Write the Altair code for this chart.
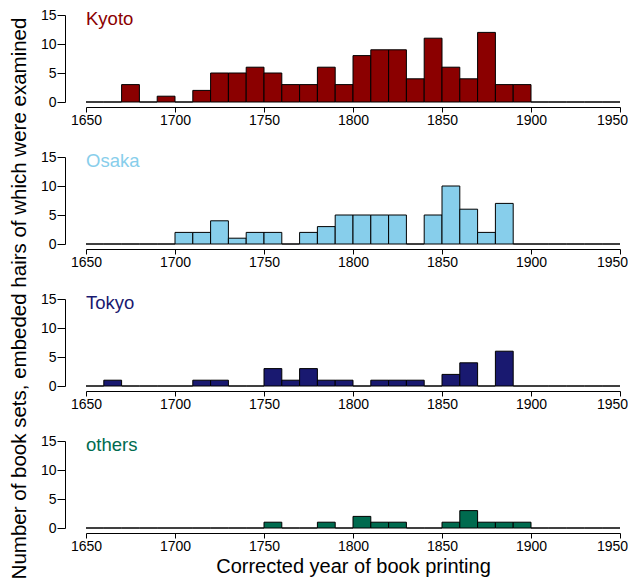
import altair as alt
import pandas as pd

FONT = "Liberation Sans"

# bin starts (10-year bins)
years = [1650, 1660, 1670, 1680, 1690, 1700, 1710, 1720, 1730, 1740,
         1750, 1760, 1770, 1780, 1790, 1800, 1810, 1820, 1830, 1840,
         1850, 1860, 1870, 1880, 1890, 1900, 1910, 1920, 1930, 1940]
bin_width = 10

kyoto = [0, 0, 3, 0, 1, 0, 2, 5, 5, 6, 5, 3, 3, 6, 3, 8, 9, 9, 4, 11, 6, 4, 12, 3, 3, 0, 0, 0, 0, 0]
osaka = [0, 0, 0, 0, 0, 2, 2, 4, 1, 2, 2, 0, 2, 3, 5, 5, 5, 5, 0, 5, 10, 6, 2, 7, 0, 0, 0, 0, 0, 0]
tokyo = [0, 1, 0, 0, 0, 0, 1, 1, 0, 0, 3, 1, 3, 1, 1, 0, 1, 1, 1, 0, 2, 4, 0, 6, 0, 0, 0, 0, 0, 0]
others = [0, 0, 0, 0, 0, 0, 0, 0, 0, 0, 1, 0, 0, 1, 0, 2, 1, 1, 0, 0, 1, 3, 1, 1, 1, 0, 0, 0, 0, 0]

regions = ["Kyoto", "Osaka", "Tokyo", "others"]
series = [kyoto, osaka, tokyo, others]
colors = ["#8B0000", "#87CEEB", "#191970", "#006B4F"]

x_ticks = [1650, 1700, 1750, 1800, 1850, 1900, 1950]
y_ticks = [0, 5, 10, 15]
x_title = "Corrected year of book printing"
y_title = "Number of book sets, embeded hairs of which were examined"

W, H = 534, 87
Y_OFFSET = 21


def panel(name, counts, color, first, last):
    df = pd.DataFrame({
        "start": years,
        "end": [y + bin_width for y in years],
        "count": counts,
        "base": [0] * len(years),
    })
    common = dict(labelFont=FONT, labelColor="black", labelFontSize=14,
                  domain=True, domainColor="black", domainWidth=1, domainOpacity=1,
                  tickColor="black", tickWidth=1, grid=False,
                  labelFlush=False, labelOverlap=False, format="d")
    xkw = dict(common, values=x_ticks, offset=5, tickSize=5, labelPadding=1,
               labelOffset={"condition": {"test": "datum.value == %d" % x_ticks[-1],
                                          "value": -8}, "value": 0})
    if last:
        xkw.update(title=x_title, titleFontSize=20, titleFont=FONT,
                   titleFontWeight="normal", titleColor="black", titlePadding=3)
    else:
        xkw.update(title="")
    ykw = dict(common, values=y_ticks, offset=Y_OFFSET, tickSize=8, labelPadding=1)
    if first:
        ykw.update(title=y_title, titleFontSize=20.5, titleFont=FONT,
                   titleFontWeight="normal", titleColor="black",
                   titleAngle=270, titleAlign="center", titleBaseline="middle",
                   titleX=-46, titleY=283)
    else:
        ykw.update(title="")
    yscale = alt.Scale(domain=[y_ticks[0], y_ticks[-1]], nice=False)
    bars = alt.Chart(df).mark_rect(fill=color, stroke="black", strokeWidth=1).encode(
        x=alt.X("start:Q", scale=alt.Scale(domain=[1650, 1950], nice=False, zero=False),
                axis=alt.Axis(**xkw)),
        x2="end:Q",
        y=alt.Y("count:Q", scale=yscale, axis=alt.Axis(**ykw)),
        y2="base:Q",
    )
    label = alt.Chart(pd.DataFrame({"label": [name]})).mark_text(
        align="left", baseline="top", fontSize=18.5, font=FONT, color=color
    ).encode(x=alt.value(0), y=alt.value(-5), text="label:N")
    return alt.layer(bars, label).properties(width=W, height=H)


panels = [panel(regions[i], series[i], colors[i], i == 0, i == len(regions) - 1)
          for i in range(len(regions))]

chart = alt.vconcat(*panels, spacing=55, bounds="flush").properties(
    padding={"left": 0, "top": 0, "right": 0, "bottom": 0}
).configure_view(stroke=None)

chart.save("out.html", embed_options={"renderer": "svg", "actions": False})
